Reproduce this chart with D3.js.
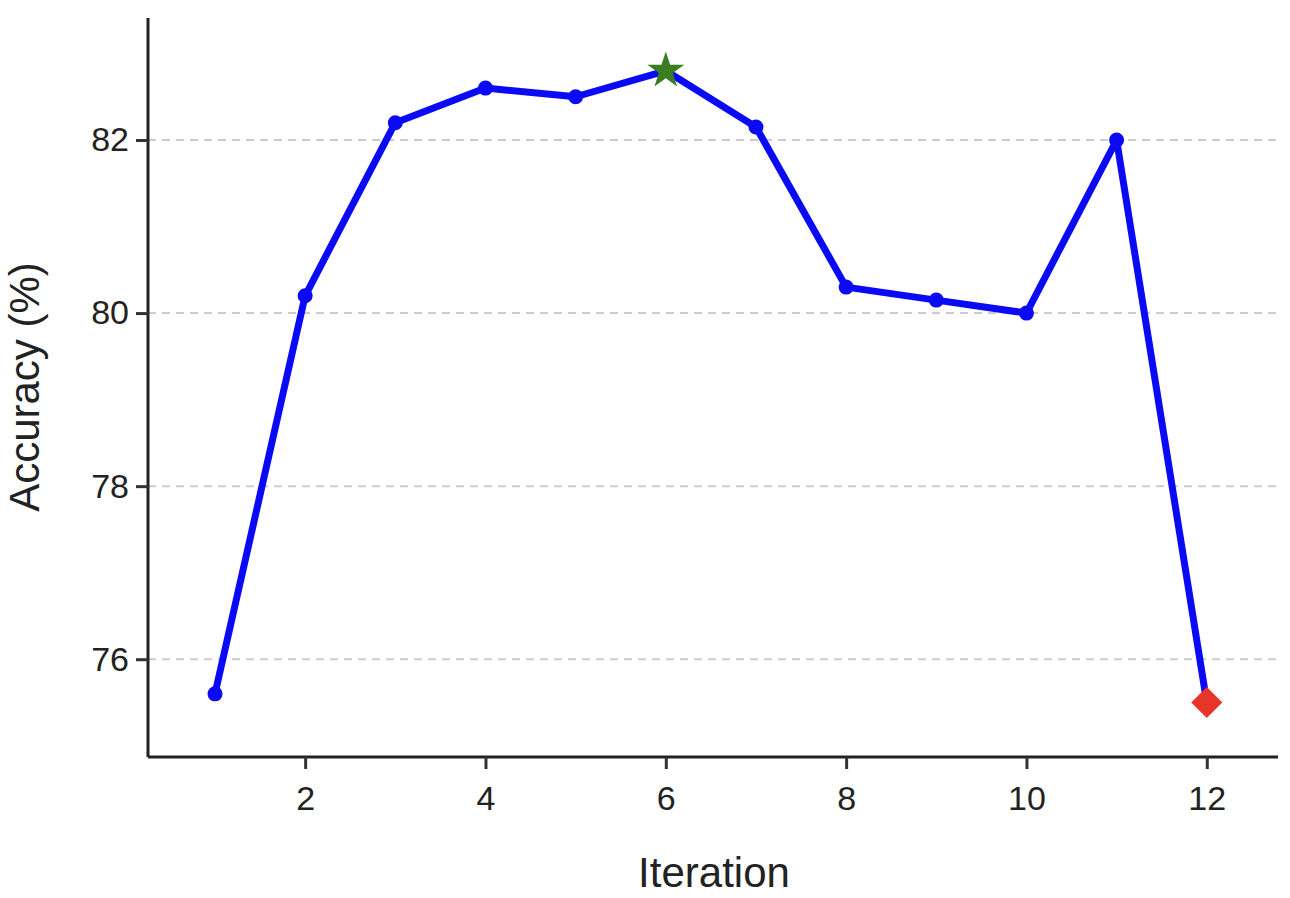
<!DOCTYPE html>
<html>
<head>
<meta charset="utf-8">
<script src="https://cdn.jsdelivr.net/npm/d3@7"></script>
<style>
  body { margin: 0; background: #fff; }
  svg text { font-family: "Liberation Sans", Arial, sans-serif; fill: #222; }
</style>
</head>
<body>
<svg id="chart" width="1290" height="898"></svg>
<script>
const iterations = [1, 2, 3, 4, 5, 6, 7, 8, 9, 10, 11, 12];
const accuracy = [75.6, 80.2, 82.2, 82.6, 82.5, 82.8, 82.15, 80.3, 80.15, 80.0, 82.0, 75.5];
const xTicks = [2, 4, 6, 8, 10, 12];
const yTicks = [76, 78, 80, 82];
const bestIdx = 5;
const lastIdx = 11;

const svg = d3.select('#chart');
const plotLeft = 148, plotRight = 1278, plotTop = 18, plotBottom = 757;

let x = d3.scaleLinear().domain([0.257, 12.79]).range([plotLeft, plotRight]);
let y = d3.scaleLinear().domain([74.87, 83.41]).range([plotBottom, plotTop]);

// grid
svg.append('g').selectAll('line')
    .data(yTicks)
    .join('line')
    .attr('x1', plotLeft).attr('x2', plotRight)
    .attr('y1', d => y(d)).attr('y2', d => y(d))
    .attr('stroke', '#cccccc')
    .attr('stroke-width', 2)
    .attr('stroke-dasharray', '8,6');

// axes
let yAxis = svg.append('g')
    .attr('transform', `translate(${plotLeft},0)`)
    .call(d3.axisLeft(y).tickValues(yTicks).tickSize(12).tickPadding(7).tickFormat(d3.format('d')));
let xAxis = svg.append('g')
    .attr('transform', `translate(0,${plotBottom})`)
    .call(d3.axisBottom(x).tickValues(xTicks).tickSize(12).tickPadding(17).tickFormat(d3.format('d')));

[yAxis, xAxis].forEach(a => {
    a.select('.domain').attr('stroke', '#222').attr('stroke-width', 3);
    a.selectAll('.tick line').attr('stroke', '#333').attr('stroke-width', 3);
    a.selectAll('.tick text').attr('font-size', 34).attr('fill', '#222');
});
yAxis.select('.domain').attr('d', `M0,${plotTop}V${plotBottom}`);
xAxis.select('.domain').attr('d', `M${plotLeft},0H${plotRight}`);

// labels
svg.append('text')
    .attr('x', 714).attr('y', 887)
    .attr('text-anchor', 'middle')
    .attr('font-size', 42)
    .text('Iteration');
svg.append('text')
    .attr('transform', 'translate(39,387) rotate(-90)')
    .attr('text-anchor', 'middle')
    .attr('font-size', 42)
    .text('Accuracy (%)');

// line
let pts = iterations.map((it, i) => ({x: it, y: accuracy[i], i: i}));
svg.append('path')
    .datum(pts)
    .attr('fill', 'none')
    .attr('stroke', '#0a0af5')
    .attr('stroke-width', 7)
    .attr('stroke-linejoin', 'round')
    .attr('d', d3.line().x(d => x(d.x)).y(d => y(d.y)));

svg.append('g').selectAll('circle')
    .data(pts.filter(d => d.i !== bestIdx && d.i !== lastIdx))
    .join('circle')
    .attr('cx', d => x(d.x)).attr('cy', d => y(d.y))
    .attr('r', 7.5)
    .attr('fill', '#0a0af5');

// best point star
let best = pts[bestIdx];
svg.append('path')
    .attr('transform', `translate(${x(best.x)},${y(best.y)})`)
    .attr('d', d3.symbol().type(d3.symbolStar).size(420)())
    .attr('fill', '#3a7d22');

// last point diamond
let last = pts[lastIdx];
svg.append('rect')
    .attr('x', -11).attr('y', -11).attr('width', 22).attr('height', 22)
    .attr('transform', `translate(${x(last.x)},${y(last.y)}) rotate(45)`)
    .attr('fill', '#e8352a');
</script>
</body>
</html>
